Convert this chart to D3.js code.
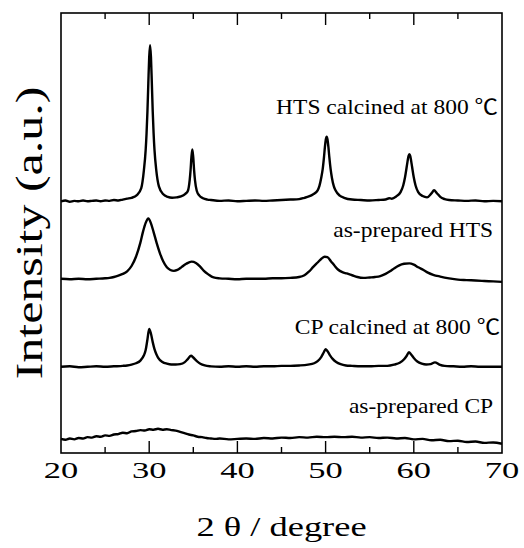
<!DOCTYPE html>
<html>
<head>
<meta charset="utf-8">
<script src="https://cdn.jsdelivr.net/npm/d3@7"></script>
<style>
  html, body { margin: 0; padding: 0; background: #fff; }
  svg { display: block; }
</style>
</head>
<body>
<svg id="chart" width="524" height="548"></svg>
<script>
// XRD patterns (2theta, intensity a.u.)
const cpRaw = [[20,32],[20.5,30],[21,33],[21.5,31],[22,34],[22.5,33],[23,36],[23.5,35],[24,38],[24.5,37],[25,40],[25.5,39],[26,42],[26.5,43],[27,46],[27.5,45],[28,49],[28.5,50],[29,52],[29.5,51],[30,54],[30.5,53],[31,55],[31.5,53],[32,54],[32.5,52],[33,51],[33.5,48],[34,45],[34.5,42],[35,40],[35.5,37],[36,36],[36.5,34],[37,33],[37.5,32],[38,33],[39,31],[40,32],[41,33],[42,32],[43,34],[44,33],[45,35],[46,34],[47,36],[48,35],[49,37],[50,36],[51,37],[52,36],[53,37],[54,35],[55,36],[56,34],[57,35],[58,33],[59,34],[60,31],[61,32],[62,29],[63,30],[64,27],[65,28],[66,25],[67,26],[68,23],[69,24],[70,21]];

const cpCalcined = [[20,26],[21,27],[22,25],[23,26],[24,27],[25,26],[26,27],[27,28],[27.5,29],[28,31],[28.5,34],[29,40],[29.4,52],[29.6,64],[29.8,88],[30.0,112],[30.2,101],[30.4,82],[30.6,66],[30.8,55],[31.0,47],[31.5,37],[32,33],[32.5,31],[33,31],[33.5,32],[34,36],[34.4,44],[34.74,51],[35.0,47],[35.4,39],[35.8,33],[36.3,29],[37,27],[38,26],[39,27],[40,26],[41,27],[42,26],[43,27],[44,27],[45,28],[46,28],[47,29],[48,31],[48.7,34],[49.1,39],[49.5,48],[49.8,59],[50.0,66],[50.2,62],[50.5,52],[50.8,44],[51.2,37],[51.7,32],[52.3,29],[53,28],[54,27],[55,27],[56,28],[57,28],[57.8,31],[58.4,35],[58.9,43],[59.2,51],[59.45,59],[59.7,54],[60.0,46],[60.4,38],[60.9,33],[61.4,31],[61.9,32],[62.4,36],[62.9,31],[63.5,28],[64.5,27],[65.5,26],[66.5,27],[67.5,26],[68.5,26],[69.5,26],[70,26]];

const htsRaw = [[20,26],[21,25],[22,26],[23,25],[24,26],[25,27],[25.5,28],[26,30],[26.5,33],[27,37],[27.5,43],[28,55],[28.5,76],[29,108],[29.3,133],[29.6,153],[29.9,163],[30.2,152],[30.5,132],[30.85,107],[31.2,85],[31.6,65],[32.0,52],[32.4,46],[32.8,44],[33.2,46],[33.7,53],[34.2,60],[34.8,65],[35.3,62],[35.8,53],[36.2,44],[36.7,36],[37.3,29],[38,27],[39,26],[40,25],[41,26],[42,26],[43,26],[44,27],[45,27],[46,28],[47,30],[47.6,34],[48.1,42],[48.6,53],[49.1,63],[49.5,71],[49.9,76],[50.2,75],[50.6,66],[51.0,56],[51.4,47],[51.9,41],[52.4,38],[53,34],[53.6,30],[54.3,28],[55,29],[55.6,30],[56.2,32],[56.8,37],[57.3,43],[57.8,50],[58.3,56],[58.9,60],[59.5,61],[60.0,58],[60.5,52],[61.1,46],[61.6,40],[62.2,35],[63,31],[64,27],[65,24],[66,23],[67,22],[68,21],[69,20],[70,19]];

const htsCalcined = [[20,22],[20.5,24],[21,21],[21.5,23],[22,22],[22.5,24],[23,22],[23.5,23],[24,24],[24.5,22],[25,24],[25.5,23],[26,25],[26.5,24],[27,26],[27.5,28],[28,30],[28.6,36],[29.1,52],[29.4,93],[29.6,139],[29.7,176],[29.8,226],[29.9,290],[30.0,350],[30.1,377],[30.2,350],[30.3,290],[30.4,226],[30.5,176],[30.6,139],[30.8,93],[31.1,56],[31.6,38],[32.1,32],[32.6,30],[33.1,31],[33.6,33],[34.1,39],[34.39,46],[34.59,70],[34.69,93],[34.79,123],[34.89,140],[34.99,123],[35.09,93],[35.19,70],[35.39,46],[35.69,35],[36.1,29],[36.6,26],[37,25],[38,23],[39,24],[40,22],[41,23],[42,24],[43,23],[44,24],[45,25],[46,26],[47,27],[47.6,30],[48.1,33],[48.6,38],[49.1,47],[49.3,57],[49.5,75],[49.67,95],[49.82,123],[49.92,145],[50.02,162],[50.12,169],[50.22,162],[50.32,145],[50.42,123],[50.57,95],[50.72,75],[50.92,57],[51.12,47],[51.6,35],[52.1,30],[53,26],[54,25],[55,24],[56,25],[56.8,26],[57.2,29],[57.5,28],[58.0,33],[58.5,43],[58.8,58],[59.0,76],[59.2,101],[59.3,114],[59.4,125],[59.5,129],[59.6,125],[59.7,114],[59.8,101],[60.0,76],[60.2,58],[60.5,43],[61.0,34],[61.5,31],[62.0,40],[62.3,47],[62.6,41],[63.0,32],[63.5,27],[64,25],[65,24],[66,23],[67,24],[68,22],[69,23],[70,22]];

// stacking offsets and labels, bottom to top
const seriesNames = ["as-prepared CP", "CP calcined at 800 \u2103", "as-prepared HTS", "HTS calcined at 800 \u2103"];
const seriesData = [cpRaw, cpCalcined, htsRaw, htsCalcined];
const offsets = [0, 170, 370, 550];
const labelAt = [[69.0, 90], [69.8, 270], [69.0, 490], [69.55, 770]]; // right end of label (2theta, a.u.)

const xTicks = [20, 30, 40, 50, 60, 70];
const xMinorTicks = [25, 35, 45, 55, 65];

const margin = { top: 13, right: 22, bottom: 95, left: 61 };
const W = 524, H = 548;
const svg = d3.select("#chart");
const serif = "'Liberation Serif', 'Times New Roman', 'Noto Sans CJK JP', serif";

const x = d3.scaleLinear().domain([20, 70]).range([margin.left, W - margin.right]);
const y = d3.scaleLinear().domain([0, 1000]).range([H - margin.bottom, margin.top]);

const line = d3.line()
  .x(d => x(d[0]))
  .y(d => y(d[1]))
  .curve(d3.curveMonotoneX);

svg.append("g")
  .attr("fill", "none")
  .attr("stroke", "#000")
  .attr("stroke-width", 2.4)
  .attr("stroke-linejoin", "round")
  .selectAll("path")
  .data(seriesData)
  .join("path")
  .attr("d", (s, i) => line(s.map(d => [d[0], d[1] + offsets[i]])));

// frame with inward ticks on top and bottom
const frame = svg.append("g").attr("stroke", "#000");
frame.append("rect")
  .attr("x", x(20)).attr("y", y(1000))
  .attr("width", x(70) - x(20)).attr("height", y(0) - y(1000))
  .attr("fill", "none").attr("stroke-width", 1.6);

const ticks = (vals, len) => vals.forEach(v => {
  frame.append("line").attr("x1", x(v)).attr("x2", x(v))
    .attr("y1", y(0)).attr("y2", y(0) - len).attr("stroke-width", 1.4);
  frame.append("line").attr("x1", x(v)).attr("x2", x(v))
    .attr("y1", y(1000)).attr("y2", y(1000) + len).attr("stroke-width", 1.4);
});
ticks(xTicks.slice(1, -1), 12);
ticks(xMinorTicks, 6);

// tick labels and titles (the source font is drawn wide)
svg.append("g")
  .selectAll("text")
  .data(xTicks)
  .join("text")
  .attr("transform", d => `translate(${x(d)},478) scale(1.5,1)`)
  .attr("text-anchor", "middle")
  .style("font", `23px ${serif}`)
  .text(d => d);

svg.append("text")
  .attr("transform", `translate(${(x(20) + x(70)) / 2},536) scale(1.35,1)`)
  .attr("text-anchor", "middle")
  .style("font", `27px ${serif}`)
  .text("2 \u03b8 / degree");

svg.append("text")
  .attr("transform", `translate(42,${(y(0) + y(1000)) / 2}) rotate(-90) scale(1.35,1)`)
  .attr("text-anchor", "middle")
  .style("font", `37px ${serif}`)
  .text("Intensity (a.u.)");

svg.append("g")
  .selectAll("text")
  .data(seriesNames)
  .join("text")
  .attr("transform", (d, i) => `translate(${x(labelAt[i][0])},${y(labelAt[i][1])}) scale(1.12,1)`)
  .attr("text-anchor", "end")
  .style("font", `21px ${serif}`)
  .text(d => d);
</script>
</body>
</html>
